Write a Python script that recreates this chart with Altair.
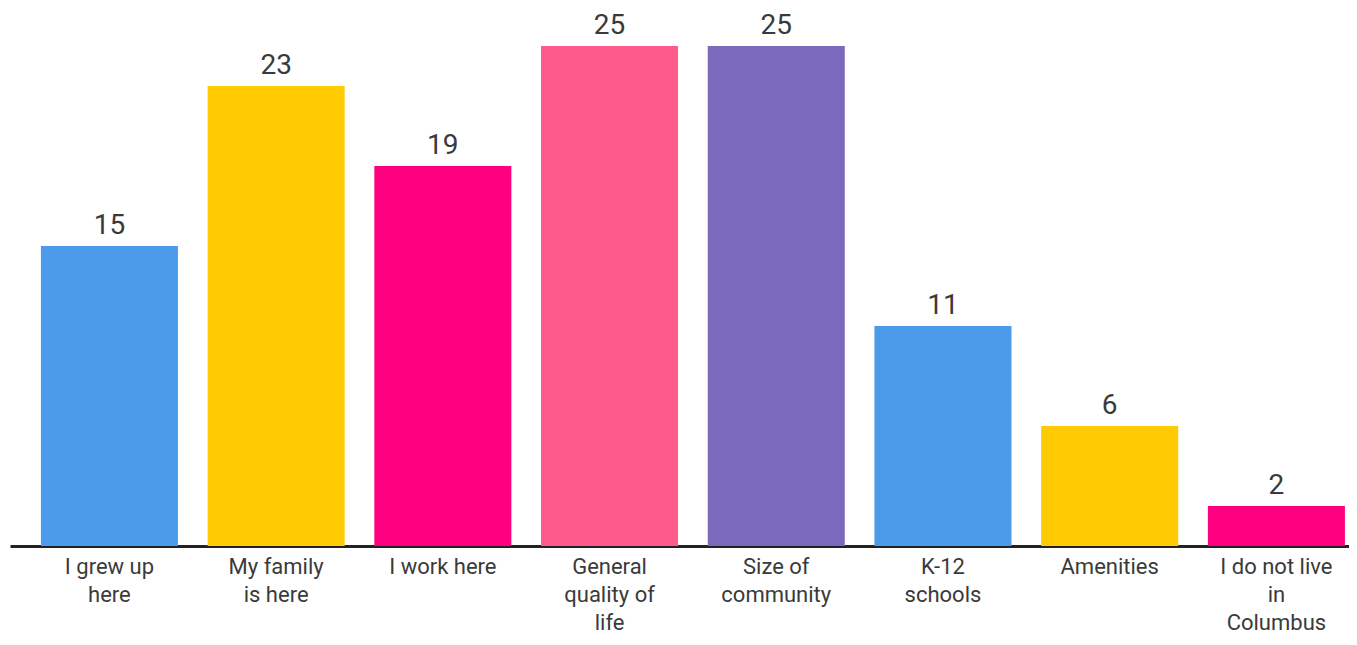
import altair as alt
import pandas as pd

categories = ["I grew up here", "My family is here", "I work here", "General quality of life",
              "Size of community", "K-12 schools", "Amenities", "I do not live in Columbus"]
label_lines = [["I grew up", "here"], ["My family", "is here"], ["I work here"],
               ["General", "quality of", "life"], ["Size of", "community"], ["K-12", "schools"],
               ["Amenities"], ["I do not live", "in", "Columbus"]]
values = [15, 23, 19, 25, 25, 11, 6, 2]
colors = ["#4C9BEB", "#FFCA00", "#FF0080", "#FF5A8C", "#7B69BE", "#4C9BEB", "#FFCA00", "#FF0080"]

df = pd.DataFrame({"category": categories, "value": values, "color": colors})

expr = ""
for c, lines in zip(categories, label_lines):
    arr = "[" + ",".join("'" + l + "'" for l in lines) + "]"
    expr += f"datum.label == '{c}' ? {arr} : "
expr += "datum.label"

FONT = "Roboto"

x = alt.X("category:N", sort=categories, title=None,
          scale=alt.Scale(paddingInner=0.178, paddingOuter=0.105, align=0.883),
          axis=alt.Axis(labelAngle=0, labelExpr=expr, labelFont=FONT, labelFontSize=22,
                        labelColor="#3a3a3a", labelLineHeight=28, labelBaseline="top",
                        labelPadding=10, ticks=False, domainColor="#222222", domainWidth=3,
                        grid=False, labelLimit=300))
y = alt.Y("value:Q", scale=alt.Scale(domain=[0, 25], nice=False), axis=None)

bars = alt.Chart(df).mark_bar().encode(x=x, y=y, color=alt.Color("color:N", scale=None))
text = alt.Chart(df).mark_text(baseline="alphabetic", dy=-12, font=FONT, fontSize=28,
                               color="#3a3a3a").encode(x=alt.X("category:N", sort=categories), y=y,
                                                       text="value:Q")

chart = (bars + text).properties(
    width=1339, height=500,
    background="white",
    autosize=alt.AutoSizeParams(type="none"),
    padding={"left": 2, "top": 38, "right": 0, "bottom": 91},
).configure_view(stroke=None)

chart.save("out.html", embed_options={"renderer": "svg", "actions": False})
